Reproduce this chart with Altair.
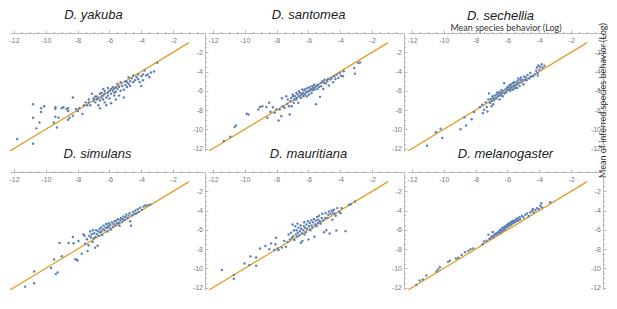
import altair as alt
import pandas as pd

species = ["D. yakuba", "D. santomea", "D. sechellia",
           "D. simulans", "D. mauritiana", "D. melanogaster"]

yakuba_x = [-11.8, -10.8, -10.8, -10.8, -10.6, -10.4, -10.3, -10.3, -10.1, -9.4, -9.4, -9.4, -9.3, -9.5,
            -9.2, -9.0, -8.9, -8.7, -8.6, -8.6, -8.6, -8.5, -8.3, -8.3, -8.1, -8.0, -7.9, -7.7, -7.6,
            -7.5, -7.4, -7.3, -7.3, -7.2, -7.1, -7.0, -7.0, -6.9, -6.9, -6.8, -6.8, -6.7, -6.7, -6.6,
            -6.6, -6.6, -6.5, -6.5, -6.4, -6.4, -6.4, -6.3, -6.3, -6.3, -6.2, -6.2, -6.1, -6.1, -6.1,
            -6.0, -6.0, -5.9, -5.9, -5.9, -5.8, -5.8, -5.7, -5.7, -5.7, -5.6, -5.6, -5.6, -5.5, -5.5,
            -5.4, -5.4, -5.3, -5.3, -5.2, -5.1, -5.1, -5.0, -5.0, -4.9, -4.9, -4.8, -4.8, -4.7, -4.7,
            -4.6, -4.5, -4.5, -4.4, -4.3, -4.2, -4.2, -4.1, -4.0, -4.0, -3.9, -3.9, -3.8, -3.7, -3.6,
            -3.5, -3.4, -3.2, -3.0]
yakuba_y = [-11.0, -11.5, -7.4, -8.8, -9.9, -9.3, -7.8, -8.2, -7.6, -7.7, -7.9, -8.7, -9.8, -9.3,
            -8.8, -7.8, -7.7, -7.9, -7.8, -8.1, -9.0, -8.8, -8.6, -6.7, -7.9, -8.1, -7.8, -8.4, -7.5,
            -7.2, -7.5, -6.9, -7.2, -7.5, -6.3, -7.0, -6.8, -6.6, -7.2, -6.9, -6.6, -7.5, -6.8, -6.3,
            -7.0, -7.8, -6.7, -6.2, -6.9, -6.5, -5.8, -7.2, -6.3, -6.0, -6.7, -7.5, -6.2, -5.7, -6.5,
            -6.0, -6.8, -5.8, -6.3, -7.3, -5.6, -6.0, -6.5, -5.8, -6.2, -6.9, -5.6, -6.1, -5.8, -5.3,
            -6.5, -5.6, -6.0, -5.1, -5.5, -5.9, -6.7, -5.4, -5.0, -5.6, -5.1, -4.6, -5.3, -5.0, -5.5,
            -4.7, -4.4, -5.1, -4.9, -4.6, -4.3, -4.8, -5.1, -4.5, -5.5, -4.3, -4.9, -3.9, -4.4, -4.3,
            -4.6, -4.1, -4.0, -3.1]

santomea_x = [-11.32, -10.91, -10.64, -10.56, -9.88, -9.77, -9.15, -9.05, -8.9, -8.64, -8.58, -8.47, -8.39,
              -8.23, -8.12, -8.02, -7.88, -7.81, -7.71, -7.67, -7.61, -7.51, -7.40, -7.34, -7.30, -7.22,
              -7.18, -7.13, -7.09, -7.05, -6.99, -6.97, -6.93, -6.89, -6.85, -6.78, -6.76, -6.72, -6.68,
              -6.64, -6.60, -6.56, -6.52, -6.47, -6.43, -6.39, -6.35, -6.31, -6.27, -6.23, -6.19, -6.14,
              -6.10, -6.06, -6.02, -5.98, -5.94, -5.90, -5.86, -5.81, -5.77, -5.73, -5.69, -5.65, -5.61,
              -5.57, -5.53, -5.48, -5.44, -5.40, -5.34, -5.28, -5.24, -5.20, -5.13, -5.07, -5.03, -4.99,
              -4.91, -4.82, -4.78, -4.72, -4.62, -4.54, -4.45, -4.37, -4.31, -4.21, -4.12, -4.04, -3.96,
              -3.84, -3.79, -3.13, -3.09, -2.87, -2.76]
santomea_y = [-11.22, -10.77, -9.77, -9.6, -8.39, -8.46, -7.94, -7.67, -7.6, -7.67, -8.81, -7.25, -8.18,
              -7.7, -8.29, -7.94, -9.08, -7.94, -8.63, -6.77, -7.6, -7.77, -6.56, -7.36, -6.91, -7.6,
              -8.46, -7.08, -6.74, -7.6, -6.39, -6.56, -7.25, -6.91, -6.56, -6.91, -6.22, -6.74, -6.39,
              -7.25, -6.05, -6.56, -6.22, -6.74, -6.39, -5.87, -6.22, -6.56, -5.94, -6.39, -5.81, -6.15,
              -6.56, -5.7, -6.05, -6.39, -5.6, -5.94, -5.81, -6.22, -5.53, -5.94, -5.7, -5.36, -5.87,
              -5.6, -7.39, -5.46, -5.81, -5.36, -5.6, -6.63, -5.18, -5.53, -5.01, -5.81, -5.18, -4.84,
              -5.25, -5.01, -4.77, -5.46, -4.84, -4.67, -5.12, -4.49, -4.77, -4.32, -4.67, -4.15, -4.43,
              -4.49, -3.98, -3.63, -4.22, -3.12, -3.05]

sechellia_x = [-11.05, -10.5, -10.2, -10.1, -8.95, -8.7, -8.6, -8.25, -8.1, -7.73, -7.58, -7.55, -7.47,
               -7.37, -7.3, -7.26, -7.2, -7.16, -7.1, -7.05, -7.0, -6.95, -6.9, -6.84, -6.8, -6.74, -6.68,
               -6.63, -6.6, -6.55, -6.5, -6.47, -6.42, -6.38, -6.34, -6.3, -6.25, -6.21, -6.17, -6.13,
               -6.08, -6.04, -6.0, -5.96, -5.92, -5.87, -5.83, -5.79, -5.75, -5.7, -5.66, -5.62, -5.58,
               -5.54, -5.5, -5.45, -5.41, -5.37, -5.33, -5.29, -5.24, -5.2, -5.16, -5.12, -5.05, -5.0,
               -4.95, -4.9, -4.84, -4.74, -4.63, -4.57, -4.53, -4.3, -4.2, -4.15, -4.11, -4.07, -4.0,
               -3.95, -3.85, -3.8, -3.68, -6.7, -6.45, -5.85, -5.6, -5.4, -6.9, -7.0, -4.8, -4.4, -4.1]
sechellia_y = [-11.7, -10.3, -9.95, -10.9, -10.0, -8.75, -9.6, -8.95, -8.2, -7.69, -7.44, -8.33, -7.97,
               -7.2, -7.69, -8.15, -6.91, -6.28, -7.27, -6.84, -7.09, -6.56, -6.74, -6.98, -6.49, -6.74,
               -6.38, -6.14, -6.56, -6.28, -6.91, -6.14, -6.38, -5.92, -6.21, -6.56, -6.03, -5.22, -6.28,
               -5.85, -6.14, -5.68, -5.92, -5.57, -5.85, -5.43, -5.71, -5.32, -5.57, -5.92, -5.22, -5.50,
               -5.08, -5.43, -5.68, -5.15, -5.32, -4.97, -4.72, -5.15, -5.50, -4.86, -4.62, -5.08, -4.86,
               -5.32, -4.51, -4.86, -4.62, -4.37, -4.72, -4.16, -4.51, -4.3, -3.91, -3.59, -4.16, -3.38,
               -3.8, -3.5, -3.24, -3.6, -3.4, -6.8, -6.5, -6.0, -5.8, -5.7, -7.4, -7.6, -4.9, -4.5, -4.4]

simulans_x = [-11.3, -10.73, -10.73, -9.67, -9.48, -9.37, -9.25, -9.14, -8.99, -8.57, -8.30, -8.26, -8.15,
              -8.05, -8.01, -7.95, -7.74, -7.63, -7.57, -7.53, -7.42, -7.38, -7.32, -7.27, -7.21, -7.17,
              -7.11, -7.06, -7.04, -7.0, -6.96, -6.90, -6.88, -6.83, -6.79, -6.75, -6.71, -6.67, -6.62,
              -6.58, -6.54, -6.50, -6.46, -6.42, -6.37, -6.31, -6.25, -6.21, -6.16, -6.12, -6.08, -6.04,
              -6.0, -5.95, -5.91, -5.85, -5.79, -5.74, -5.68, -5.62, -5.58, -5.53, -5.47, -5.41, -5.37,
              -5.32, -5.28, -5.22, -5.16, -5.12, -5.05, -4.99, -4.95, -4.86, -4.80, -4.74, -4.70, -4.65,
              -4.59, -4.53, -4.44, -4.38, -4.32, -4.23, -4.17, -4.07, -3.96, -3.86, -3.75, -3.61, -3.44]
simulans_y = [-11.9, -11.54, -10.32, -9.96, -9.09, -10.6, -10.42, -7.37, -8.74, -7.37, -6.74, -7.40, -9.05,
              -9.12, -9.19, -7.16, -8.49, -6.46, -6.63, -7.44, -6.98, -8.21, -7.61, -6.63, -6.18, -6.81,
              -6.46, -7.26, -6.04, -6.91, -6.35, -7.86, -6.74, -6.04, -6.46, -7.65, -6.18, -6.63, -5.93,
              -6.28, -5.75, -6.18, -6.53, -5.93, -5.58, -6.04, -5.75, -5.40, -5.82, -6.18, -5.58, -5.33,
              -5.75, -5.47, -5.96, -5.23, -5.68, -5.40, -5.12, -5.54, -5.05, -5.33, -4.91, -5.26, -5.58,
              -4.98, -4.77, -5.19, -4.91, -4.63, -4.98, -4.70, -4.42, -4.77, -4.53, -4.28, -5.12, -5.58,
              -4.49, -4.14, -4.35, -4.0, -4.28, -3.86, -4.14, -3.72, -3.93, -3.58, -3.47, -3.44, -3.37]

mauritiana_x = [-11.44, -10.69, -10.69, -10.02, -9.71, -9.65, -9.29, -9.29, -9.04, -8.71, -8.46, -8.35,
                -8.15, -8.08, -8.04, -7.94, -7.88, -7.67, -7.52, -7.42, -7.31, -7.25, -7.17, -7.10, -7.04,
                -7.0, -6.96, -6.92, -6.88, -6.83, -6.79, -6.75, -6.71, -6.69, -6.67, -6.63, -6.58, -6.54,
                -6.50, -6.48, -6.46, -6.42, -6.38, -6.33, -6.29, -6.27, -6.25, -6.21, -6.17, -6.13, -6.08,
                -6.04, -6.0, -5.96, -5.92, -5.88, -5.83, -5.79, -5.75, -5.71, -5.67, -5.63, -5.58, -5.54,
                -5.50, -5.46, -5.42, -5.38, -5.33, -5.29, -5.23, -5.17, -5.13, -5.08, -5.02, -4.96, -4.92,
                -4.88, -4.81, -4.75, -4.71, -4.67, -4.60, -4.54, -4.50, -4.46, -4.40, -4.33, -4.29, -4.25,
                -4.19, -4.08, -3.98, -3.92, -3.67, -3.46, -3.35, -3.08]
mauritiana_y = [-10.17, -10.68, -11.09, -9.49, -9.66, -8.77, -8.87, -9.73, -7.95, -7.68, -8.02, -7.41,
                -8.09, -7.51, -6.83, -7.95, -8.09, -7.85, -7.17, -7.75, -7.27, -6.48, -7.0, -6.31, -6.83,
                -5.46, -6.66, -6.08, -7.06, -5.63, -6.48, -6.04, -6.72, -5.36, -6.31, -5.80, -6.59, -6.14,
                -5.56, -7.34, -5.90, -6.38, -7.17, -6.04, -5.63, -5.22, -6.48, -5.80, -6.25, -5.46, -5.90,
                -5.12, -7.0, -5.63, -5.29, -6.04, -5.02, -5.56, -5.80, -5.22, -4.88, -6.72, -5.46, -5.02,
                -5.63, -4.68, -5.29, -4.95, -4.54, -5.12, -5.36, -4.78, -4.33, -5.02, -6.25, -4.78, -4.27,
                -6.04, -4.78, -4.44, -4.10, -6.38, -4.33, -3.99, -4.95, -4.20, -3.92, -4.33, -4.54, -6.08,
                -3.75, -4.10, -4.27, -3.75, -6.14, -3.41, -3.34, -3.07]

melanogaster_x = [-11.73, -11.52, -11.31, -11.09, -10.46, -10.36, -10.25, -9.73, -9.62, -9.24, -9.09, -8.88,
                  -8.67, -8.46, -8.32, -8.15, -7.56, -7.47, -7.31, -7.20, -7.14, -7.05, -6.99, -6.93, -6.88,
                  -6.84, -6.78, -6.72, -6.67, -6.63, -6.57, -6.51, -6.46, -6.42, -6.38, -6.34, -6.29, -6.25,
                  -6.21, -6.17, -6.13, -6.08, -6.04, -6.0, -5.96, -5.92, -5.87, -5.83, -5.79, -5.75, -5.71,
                  -5.66, -5.62, -5.58, -5.52, -5.45, -5.41, -5.37, -5.31, -5.24, -5.20, -5.09, -4.99, -4.88,
                  -4.78, -4.67, -4.57, -4.46, -4.40, -4.36, -4.25, -4.15, -4.04, -3.94, -3.87, -3.83, -3.31]
melanogaster_y = [-11.73, -11.27, -11.17, -10.74, -10.32, -10.11, -9.89, -9.33, -9.22, -8.98, -8.90, -8.62,
                  -8.34, -8.20, -8.02, -7.95, -7.49, -7.21, -7.14, -6.50, -6.96, -6.86, -6.68, -6.22, -6.78,
                  -6.57, -6.43, -6.50, -6.33, -6.43, -6.22, -6.08, -6.33, -5.97, -6.15, -5.80, -6.08, -5.87,
                  -5.72, -5.97, -5.62, -5.80, -5.51, -5.72, -5.37, -5.62, -5.44, -5.27, -5.51, -5.16, -5.37,
                  -5.09, -5.30, -5.02, -5.19, -4.88, -5.09, -4.81, -5.02, -4.66, -4.91, -4.56, -4.73, -4.45,
                  -4.31, -4.56, -4.20, -4.03, -3.85, -4.20, -3.96, -3.75, -3.85, -3.50, -3.25, -3.67, -3.14]

xs = [yakuba_x, santomea_x, sechellia_x, simulans_x, mauritiana_x, melanogaster_x]
ys = [yakuba_y, santomea_y, sechellia_y, simulans_y, mauritiana_y, melanogaster_y]

identity_line = [-12.3, -1.0]
tick_values = [-12, -11.5, -11, -10.5, -10, -9.5, -9, -8.5, -8, -7.5, -7, -6.5,
               -6, -5.5, -5, -4.5, -4, -3.5, -3, -2.5, -2, -1.5, -1, -0.5]
x_title = "Mean species behavior (Log)"
y_title = "Mean of inferred species behavior (Log)"

BLUE = "#5E81B5"
ORANGE = "#E19C24"
AXIS_GRAY = "#a8a8a8"
W, H = 195, 118
XDOM = [-12.25, 0]
YDOM = [-12.25, 0]

tick_size = {"condition": {"test": "datum.value % 2 === 0", "value": 3}, "value": 1.5}
label_expr = "(datum.value % 2 === 0 && datum.value <= -2) ? ('' + datum.value) : ''"

common = dict(values=tick_values, labelExpr=label_expr, tickSize=tick_size,
              labelFontSize=7, labelColor="#777777", labelFont="Liberation Sans",
              domainColor=AXIS_GRAY, tickColor=AXIS_GRAY, domainWidth=0.8, tickWidth=0.8,
              grid=False, labelOverlap=False, labelFlush=False)


def x_axis(with_title):
    kw = dict(common, orient="top", labelBaseline="top", labelAlign="center", labelPadding=-6)
    if with_title:
        kw.update(title=x_title, titleFont="Lato", titleFontSize=9, titleFontWeight="normal",
                  titleColor="#333333", titlePadding=-3)
    else:
        kw["title"] = None
    return alt.Axis(**kw)


def y_axis(with_title):
    kw = dict(common, orient="right", labelAlign="right", labelBaseline="middle",
              labelPadding=-5.5, minExtent=0)
    if with_title:
        kw.update(title=y_title, titleFont="Lato", titleFontSize=9, titleFontWeight="normal",
                  titleColor="#333333", titlePadding=1, titleAngle=270, titleY=67)
    else:
        kw["title"] = None
    return alt.Axis(**kw)


def panel(i, dx, toff, titles=False):
    pts = pd.DataFrame({"x": xs[i], "y": ys[i]})
    ref = pd.DataFrame({"x": identity_line, "y": identity_line})
    xenc = alt.X("x:Q", scale=alt.Scale(domain=XDOM, nice=False, zero=False), axis=x_axis(titles))
    yenc = alt.Y("y:Q", scale=alt.Scale(domain=YDOM, nice=False, zero=False), axis=y_axis(titles))
    line = alt.Chart(ref).mark_line(color=ORANGE, strokeWidth=1.2, clip=True).encode(x=xenc, y=yenc)
    dots = alt.Chart(pts).mark_circle(size=6, color=BLUE, opacity=1).encode(x=xenc, y=yenc)
    return alt.layer(line, dots).properties(
        width=W, height=H,
        title=alt.TitleParams(text=species[i], font="Liberation Sans", fontSize=13,
                              fontStyle="italic", fontWeight="normal", color="#222222",
                              anchor="middle", offset=toff, dx=dx),
    )


panels = [panel(0, -14, 8), panel(1, 2, 8), panel(2, -5, -1, titles=True),
          panel(3, -10, 8), panel(4, 2, 8), panel(5, 0, 8)]
chart = alt.concat(*panels, columns=3, spacing={"row": 21, "column": 4}, bounds="flush").properties(
    padding=0).configure_view(stroke=None)

chart.save("out.html", embed_options={"renderer": "svg", "actions": False})
